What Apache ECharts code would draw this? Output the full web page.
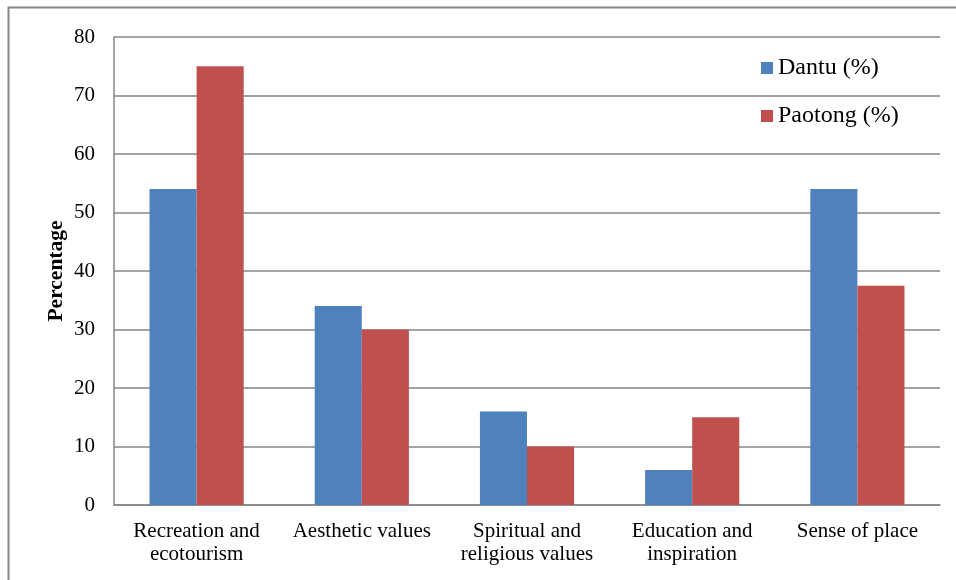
<!DOCTYPE html>
<html>
<head>
<meta charset="utf-8">
<style>
  html, body { margin: 0; padding: 0; background: #ffffff; }
  #chart { width: 956px; height: 580px; }
</style>
<script src="https://cdn.jsdelivr.net/npm/echarts@6/dist/echarts.min.js"></script>
</head>
<body>
<div id="chart"></div>
<script>
// Cultural ecosystem services valued in the two villages
const categories = [
  'Recreation and\necotourism',
  'Aesthetic values',
  'Spiritual and\nreligious values',
  'Education and\ninspiration',
  'Sense of place'
];
const dantu = [54, 34, 16, 6, 54];
const paotong = [75, 30, 10, 15, 37.5];
const seriesNames = ['Dantu (%)', 'Paotong (%)'];

const FONT = '"Liberation Serif", "Times New Roman", serif';
const GRID_GREY = '#868686';

const chart = echarts.init(document.getElementById('chart'), null, { renderer: 'canvas' });

chart.setOption({
  backgroundColor: '#ffffff',
  animation: false,
  textStyle: { fontFamily: FONT, color: '#000000' },
  graphic: [{
    type: 'rect',
    shape: { x: 8.5, y: 7.5, width: 1000, height: 620 },
    style: { fill: 'none', stroke: '#868686', lineWidth: 2 },
    silent: true
  }],
  grid: { left: 114, right: 16, top: 37, bottom: 75, containLabel: false },
  legend: {
    orient: 'vertical',
    left: 761,
    top: 55,
    padding: 0,
    itemWidth: 12,
    itemHeight: 12,
    itemGap: 22,
    icon: 'rect',
    data: seriesNames,
    textStyle: { fontFamily: FONT, fontSize: 24, color: '#000000', lineHeight: 26 }
  },
  xAxis: {
    type: 'category',
    data: categories,
    axisLine: { lineStyle: { color: GRID_GREY, width: 1.5 } },
    axisTick: { show: false },
    axisLabel: {
      interval: 0,
      margin: 15,
      fontFamily: FONT,
      fontSize: 21,
      lineHeight: 23,
      color: '#000000'
    }
  },
  yAxis: {
    type: 'value',
    min: 0,
    max: 80,
    interval: 10,
    name: 'Percentage',
    nameLocation: 'middle',
    nameGap: 47,
    nameMoveOverlap: false,
    nameRotate: 90,
    nameTextStyle: { fontFamily: FONT, fontSize: 21.5, fontWeight: 'bold', color: '#000000' },
    axisLine: { show: true, lineStyle: { color: GRID_GREY, width: 1.5 } },
    axisTick: { show: false },
    splitLine: { lineStyle: { color: GRID_GREY, width: 1.5 } },
    axisLabel: { margin: 19, fontFamily: FONT, fontSize: 21, color: '#000000' }
  },
  series: [
    {
      name: seriesNames[0],
      type: 'bar',
      data: dantu,
      itemStyle: { color: '#4F81BD' },
      barGap: '0%',
      barCategoryGap: '43%'
    },
    {
      name: seriesNames[1],
      type: 'bar',
      data: paotong,
      itemStyle: { color: '#C0504D' },
      barGap: '0%',
      barCategoryGap: '43%'
    }
  ]
});
</script>
</body>
</html>
